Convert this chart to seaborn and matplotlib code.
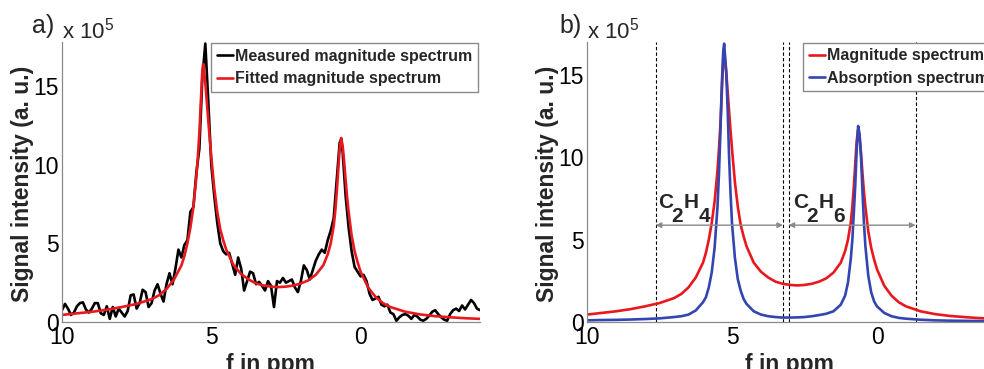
import numpy as np
import pandas as pd
import matplotlib
matplotlib.use("Agg")
import matplotlib.pyplot as plt
import seaborn as sns

# ---------------- data (signal in units of 1e5) ----------------
ppm_smooth = [10, 9.5, 9, 8.5, 8, 7.5, 7, 6.75, 6.5, 6.25, 6.0, 5.9, 5.8, 5.7, 5.6,
              5.5, 5.45, 5.4, 5.35, 5.3, 5.27, 5.2, 5.15, 5.1, 5.05, 5.0, 4.9, 4.8,
              4.7, 4.6, 4.5, 4.25, 4.0, 3.75, 3.5, 3.25, 3.0, 2.75, 2.5, 2.25, 2.0,
              1.75, 1.5, 1.25, 1.1, 1.0, 0.9, 0.85, 0.8, 0.75, 0.7, 0.65, 0.6, 0.55,
              0.5, 0.45, 0.4, 0.3, 0.2, 0.1, 0.0, -0.25, -0.5, -0.75, -1.0, -1.5,
              -2.0, -2.5, -3.0, -3.5, -4.0]

magnitude = [0.45, 0.55, 0.65, 0.78, 0.95, 1.15, 1.45, 1.7, 2.1, 2.7,
             3.6, 4.2, 5.0, 6.0, 7.3, 9.2, 10.5, 12.0, 14.0, 16.0,
             16.4, 15.2, 14.0, 12.8, 11.6, 10.5, 8.5, 7.0, 5.9, 5.2,
             4.6, 3.6, 3.05, 2.7, 2.45, 2.32, 2.25, 2.22, 2.25, 2.32,
             2.45, 2.65, 3.0, 3.6, 4.3, 5.0, 6.1, 7.0, 8.2, 9.6,
             11.0, 11.7, 11.2, 10.2, 9.0, 7.9, 7.0, 5.5, 4.5, 3.8,
             3.2, 2.2, 1.6, 1.2, 0.95, 0.65, 0.48, 0.37, 0.3, 0.24,
             0.2]

absorption = [0.1, 0.12, 0.13, 0.15, 0.18, 0.22, 0.3, 0.35, 0.45, 0.7,
              1.2, 1.5, 2.1, 3.0, 4.5, 7.0, 9.0, 11.5, 14.5, 16.5,
              16.9, 15.2, 12.9, 10.0, 7.8, 6.0, 3.9, 2.6, 1.9, 1.4,
              1.1, 0.65, 0.45, 0.35, 0.3, 0.27, 0.27, 0.28, 0.3, 0.35,
              0.42, 0.5, 0.65, 1.05, 1.6, 2.4, 3.9, 5.0, 6.6, 8.3,
              10.5, 11.9, 11.4, 10.0, 7.9, 6.0, 4.6, 2.8, 1.8, 1.25,
              0.95, 0.55, 0.35, 0.25, 0.2, 0.14, 0.1, 0.08, 0.07, 0.06,
              0.05]

ppm_meas = [10.0, 9.9, 9.8, 9.7, 9.6, 9.5, 9.4, 9.3, 9.2, 9.1,
            9.0, 8.9, 8.8, 8.7, 8.6, 8.5, 8.4, 8.3, 8.2, 8.1,
            8.0, 7.9, 7.8, 7.7, 7.6, 7.5, 7.4, 7.3, 7.2, 7.1,
            7.0, 6.9, 6.8, 6.7, 6.6, 6.5, 6.4, 6.3, 6.2, 6.1,
            6.0, 5.9, 5.8, 5.7, 5.6, 5.5, 5.4, 5.3, 5.2, 5.1,
            5.0, 4.9, 4.8, 4.7, 4.6, 4.5, 4.4, 4.3, 4.2, 4.1,
            4.0, 3.9, 3.8, 3.7, 3.6, 3.5, 3.4, 3.3, 3.2, 3.1,
            3.0, 2.9, 2.8, 2.7, 2.6, 2.5, 2.4, 2.3, 2.2, 2.1,
            2.0, 1.9, 1.8, 1.7, 1.6, 1.5, 1.4, 1.3, 1.2, 1.1,
            1.0, 0.9, 0.8, 0.7, 0.65, 0.6, 0.5, 0.4, 0.3, 0.2,
            0.1, 0.0, -0.1, -0.2, -0.3, -0.4, -0.5, -0.6, -0.7, -0.8,
            -0.9, -1.0, -1.1, -1.2, -1.3, -1.4, -1.5, -1.6, -1.7, -1.8,
            -1.9, -2.0, -2.1, -2.2, -2.3, -2.4, -2.5, -2.6, -2.7, -2.8,
            -2.9, -3.0, -3.1, -3.2, -3.3, -3.4, -3.5, -3.6, -3.7, -3.8,
            -3.9, -4.0]

measured = [0.75, 1.15, 0.85, 0.45, 0.6, 1.0, 1.2, 1.25, 0.8, 0.6,
            0.85, 1.2, 1.2, 0.55, 0.45, 1.0, 0.2, 0.95, 0.35, 0.85,
            0.6, 0.35, 0.7, 1.7, 1.75, 0.85, 1.2, 2.05, 1.9, 0.95,
            1.2, 2.0, 2.4, 1.8, 1.3, 2.4, 3.1, 2.4, 3.4, 4.6,
            4.1, 4.9, 5.2, 7.0, 7.3, 9.5, 11.0, 15.5, 17.7, 14.0,
            10.0, 8.0, 6.3, 5.0, 4.5, 4.3, 4.4, 3.7, 3.0, 4.1,
            3.4, 2.0, 2.6, 3.2, 3.1, 2.4, 2.55, 2.3, 2.0, 2.6,
            2.3, 0.95, 2.6, 2.5, 2.8, 2.5, 2.6, 2.7, 2.2, 1.9,
            2.6, 3.6, 3.3, 2.7, 3.3, 3.9, 4.3, 4.6, 4.4, 5.2,
            5.8, 6.6, 9.0, 11.4, 11.6, 10.8, 8.0, 6.0, 4.5, 3.5,
            3.2, 2.9, 3.0, 2.6, 1.8, 1.4, 1.5, 1.6, 1.1, 1.0,
            1.1, 0.6, 0.5, 0.08, 0.3, 0.45, 0.5, 0.4, 0.2, 0.45,
            0.35, 0.15, 0.08, 0.2, 0.4, 0.65, 0.75, 0.5, 0.3, 0.15,
            0.08, 0.5, 0.75, 0.85, 0.7, 1.05, 0.8, 1.1, 1.4, 1.2,
            0.85, 0.75]

x_ticks = [10, 5, 0]
y_ticks = [0, 5, 10, 15]
region_bounds = [7.63, 3.24, 3.05, -1.33]
region_labels = [("C", "2", "H", "4"), ("C", "2", "H", "6")]
region_spans = [(7.63, 3.24), (3.05, -1.33)]
label_left = [7.55, 2.9]

smooth = pd.DataFrame({"ppm": ppm_smooth, "mag": magnitude, "abs": absorption})
meas = pd.DataFrame({"ppm": ppm_meas, "val": measured})

# ---------------- style ----------------
sns.set_theme(style="white")
plt.rcParams["font.family"] = ["Liberation Sans", "DejaVu Sans"]
plt.rcParams["mathtext.fontset"] = "custom"
plt.rcParams["mathtext.rm"] = "Liberation Sans"
plt.rcParams["mathtext.bf"] = "Liberation Sans:bold"
plt.rcParams["mathtext.it"] = "Liberation Sans:italic"

RED = "#e8181e"
BLUE = "#3345b0"
GRAY = "#8a8a8a"
LW = 1.9

W, H = 984, 369
fig = plt.figure(figsize=(W / 100, H / 100), dpi=100)
axa = fig.add_axes([62 / W, 1 - 322 / H, 418 / W, 280 / H])
axb = fig.add_axes([587 / W, 1 - 322 / H, 406 / W, 280 / H])


def style_axis(ax, ymax):
    ax.set_xlim(10, -4)
    ax.set_ylim(0, ymax)
    ax.set_xticks(x_ticks)
    ax.set_yticks(y_ticks)
    ax.set_xticklabels([str(t) for t in x_ticks])
    ax.set_yticklabels([str(t) for t in y_ticks])
    for s in ["top", "right"]:
        ax.spines[s].set_visible(False)
    for s in ["left", "bottom"]:
        ax.spines[s].set_color(GRAY)
        ax.spines[s].set_linewidth(0.9)
    ax.tick_params(axis="both", direction="in", length=4, width=0.8,
                   color=GRAY, labelsize=16.5, labelcolor="black")
    ax.tick_params(axis="x", pad=3)
    ax.tick_params(axis="y", pad=2)
    ax.set_xlabel("f in ppm", fontsize=16.5, fontweight="bold")
    ax.set_ylabel("Signal intensity (a. u.)", fontsize=16.5, fontweight="bold")
    ax.xaxis.set_label_coords(0.498, -0.11)
    ax.patch.set_alpha(0)


def round_lines(ax):
    for ln in ax.get_lines():
        ln.set_solid_joinstyle("round")
        ln.set_solid_capstyle("round")


leg_kw = dict(borderaxespad=0, prop={"weight": "bold", "size": 11.5},
              handlelength=1.0, handletextpad=0.15, borderpad=0.35,
              labelspacing=0.45, fancybox=False, framealpha=1, edgecolor=GRAY)

# ---------------- panel a ----------------
sns.lineplot(data=meas, x="ppm", y="val", ax=axa, color="black", lw=LW,
             sort=False, label="Measured magnitude spectrum", legend=False)
sns.lineplot(data=smooth, x="ppm", y="mag", ax=axa, color=RED, lw=LW,
             sort=False, label="Fitted magnitude spectrum", legend=False)
round_lines(axa)
style_axis(axa, 17.8)
axa.yaxis.set_label_coords(-0.068, 0.495)
leg = axa.legend(loc="upper right", bbox_to_anchor=(0.995, 0.995), **leg_kw)
leg.get_frame().set_linewidth(1.0)

# ---------------- panel b ----------------
sns.lineplot(data=smooth, x="ppm", y="mag", ax=axb, color=RED, lw=LW,
             sort=False, label="Magnitude spectrum", legend=False)
sns.lineplot(data=smooth, x="ppm", y="abs", ax=axb, color=BLUE, lw=LW,
             sort=False, label="Absorption spectrum", legend=False)
round_lines(axb)
style_axis(axb, 17.0)
axb.yaxis.set_label_coords(-0.07, 0.495)
for xb in region_bounds:
    axb.axvline(xb, color="black", lw=0.8, ls=(0, (3, 2)), zorder=1)
for (x0, x1), parts, xl in zip(region_spans, region_labels, label_left):
    axb.annotate("", xy=(x1, 5.88), xytext=(x0, 5.88),
                 arrowprops=dict(arrowstyle="<|-|>", color=GRAY, lw=1.0,
                                 mutation_scale=8, shrinkA=0, shrinkB=0))
    offsets = [(0, 0), (9.8, -9.5), (18.2, 0), (29.2, -9.5)]
    for ch, (dx, dy) in zip(parts, offsets):
        axb.annotate(ch, xy=(xl, 6.9), xytext=(dx, dy), textcoords="offset points",
                     fontsize=15, fontweight="bold", ha="left", va="baseline")
legb = axb.legend(loc="upper left", bbox_to_anchor=(0.532, 0.997), **leg_kw)
legb.get_frame().set_linewidth(1.0)

# ---------------- panel letters and exponent labels ----------------
fig.text(32 / W, 1 - 14 / H, "a)", fontsize=18, ha="left", va="top")
fig.text(62 / W, 1 - 38 / H, "x 10$^{5}$", fontsize=16, ha="left", va="baseline")
fig.text(559 / W, 1 - 14 / H, "b)", fontsize=18, ha="left", va="top")
fig.text(587 / W, 1 - 38 / H, "x 10$^{5}$", fontsize=16, ha="left", va="baseline")

fig.savefig("out.png", dpi=100)
